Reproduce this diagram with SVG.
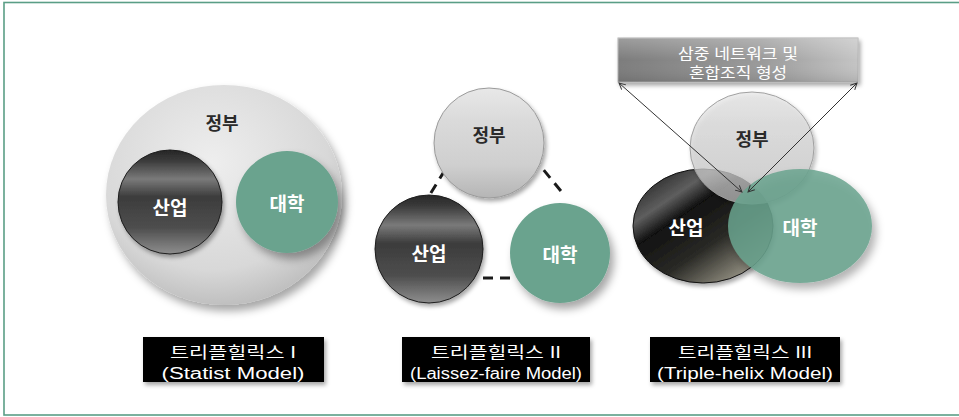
<svg xmlns="http://www.w3.org/2000/svg" width="959" height="417" viewBox="0 0 959 417">
<style>
.k{font-family:"Noto Sans CJK KR","Noto Sans",sans-serif;font-weight:bold;text-anchor:middle;dominant-baseline:central}
.w{fill:#ffffff;font-size:19px}
.d{fill:#2a2a2a;font-size:18px}
.lab{font-family:"Liberation Sans","Noto Sans CJK KR",sans-serif;fill:#ffffff;font-size:16px;text-anchor:middle}
.bx{font-family:"Liberation Sans","Noto Sans CJK KR",sans-serif;fill:#ffffff;font-size:15px;text-anchor:middle}
.dash{stroke:#1a1a1a;stroke-width:3;stroke-dasharray:10 7;fill:none}
.arr{stroke:#333;stroke-width:1;fill:none;marker-start:url(#ah);marker-end:url(#ah)}
.uni{fill:#6aa38e}
</style>
<defs>
<filter id="sh" x="-20%" y="-20%" width="150%" height="150%">
<feDropShadow dx="4" dy="6" stdDeviation="4" flood-color="#000" flood-opacity="0.35"/>
</filter>
<filter id="sh2" x="-20%" y="-20%" width="150%" height="150%">
<feDropShadow dx="2" dy="3" stdDeviation="2" flood-color="#000" flood-opacity="0.35"/>
</filter>
<radialGradient id="gBig" cx="0.45" cy="0.35" r="0.7">
<stop offset="0" stop-color="#eeeeee"/>
<stop offset="0.7" stop-color="#d8d8d8"/>
<stop offset="1" stop-color="#b8b8b8"/>
</radialGradient>
<linearGradient id="gDark" x1="0" y1="0" x2="0" y2="1">
<stop offset="0" stop-color="#262626"/>
<stop offset="0.1" stop-color="#3a3a3a"/>
<stop offset="0.28" stop-color="#7a7a7a"/>
<stop offset="0.45" stop-color="#3c3c3c"/>
<stop offset="0.75" stop-color="#4e4e4e"/>
<stop offset="1" stop-color="#8e8e8e"/>
</linearGradient>
<linearGradient id="gLight" x1="0" y1="0" x2="0" y2="1">
<stop offset="0" stop-color="#e8e8e8"/>
<stop offset="0.3" stop-color="#dadada"/>
<stop offset="0.7" stop-color="#cfcfcf"/>
<stop offset="1" stop-color="#b5b5b5"/>
</linearGradient>
<linearGradient id="gDark3" x1="0.2" y1="0.1" x2="0.9" y2="0.95">
<stop offset="0" stop-color="#3a3a3a"/>
<stop offset="0.15" stop-color="#5e5e5e"/>
<stop offset="0.3" stop-color="#111111"/>
<stop offset="0.6" stop-color="#2a2a26"/>
<stop offset="1" stop-color="#aaa696"/>
</linearGradient>
<linearGradient id="gBox" x1="0" y1="0" x2="1" y2="0">
<stop offset="0" stop-color="#7c7c7c"/>
<stop offset="0.6" stop-color="#9a9a9a"/>
<stop offset="1" stop-color="#c4c4c4"/>
</linearGradient>
<linearGradient id="gBoxV" x1="0" y1="0" x2="0" y2="1">
<stop offset="0" stop-color="#ffffff" stop-opacity="0.25"/>
<stop offset="0.5" stop-color="#ffffff" stop-opacity="0"/>
<stop offset="1" stop-color="#000000" stop-opacity="0.1"/>
</linearGradient>
<marker id="ah" viewBox="0 0 10 10" refX="9" refY="5" markerWidth="8" markerHeight="8" orient="auto-start-reverse" markerUnits="userSpaceOnUse">
<path d="M1,1 L9,5 L1,9" fill="none" stroke="#333" stroke-width="1.2"/>
</marker>
</defs>

<rect x="4" y="2.5" width="970" height="412.5" fill="#ffffff" stroke="#5a9e86" stroke-width="1.6"/>

<g id="connectors">
<line class="dash" x1="445" y1="170" x2="429" y2="196"/>
<line class="dash" x1="533" y1="157" x2="565" y2="196"/>
<line class="dash" x1="483" y1="278" x2="516" y2="278"/>
</g>

<!-- Panel 1 -->
<g id="gov1">
<ellipse cx="224" cy="195" rx="118" ry="110" fill="url(#gBig)" filter="url(#sh)"/>
<text class="k d" x="222" y="122">정부</text>
</g>
<g id="ind1">
<circle cx="170" cy="202" r="52" fill="url(#gDark)" stroke="#1e1e1e" stroke-width="1" filter="url(#sh2)"/>
<text class="k w" x="170" y="206">산업</text>
</g>
<g id="uni1">
<circle cx="287" cy="202" r="51" class="uni" filter="url(#sh)"/>
<text class="k w" x="287" y="202">대학</text>
</g>

<!-- Panel 2 -->
<g id="gov2">
<circle cx="489" cy="143" r="55" fill="url(#gLight)" stroke="#9a9a9a" stroke-width="1" filter="url(#sh2)"/>
<text class="k d" x="489" y="134">정부</text>
</g>
<g id="ind2">
<circle cx="429" cy="249" r="54" fill="url(#gDark)" stroke="#1e1e1e" stroke-width="1" filter="url(#sh2)"/>
<text class="k w" x="429" y="252">산업</text>
</g>
<g id="uni2">
<circle cx="560" cy="253" r="50" class="uni" filter="url(#sh)"/>
<text class="k w" x="560" y="253">대학</text>
</g>

<!-- Panel 3 -->
<g id="box3">
<rect x="618" y="38" width="240" height="44" fill="url(#gBox)" stroke="#b0b0b0" stroke-width="1" filter="url(#sh2)"/>
<rect x="618" y="38" width="240" height="44" fill="url(#gBoxV)"/>
<text class="bx" x="738" y="59" textLength="120" lengthAdjust="spacingAndGlyphs">삼중 네트워크 및</text>
<text class="bx" x="738" y="78" textLength="98" lengthAdjust="spacingAndGlyphs">혼합조직 형성</text>
</g>
<g id="ind3">
<ellipse cx="703" cy="226" rx="70" ry="57" fill="url(#gDark3)" stroke="#111" stroke-width="1" filter="url(#sh2)"/>
<text class="k w" x="686" y="226">산업</text>
</g>
<g id="gov3">
<ellipse cx="752" cy="148" rx="62" ry="56" fill="url(#gLight)" fill-opacity="0.72" stroke="#a0a0a0" stroke-width="1" filter="url(#sh2)"/>
<text class="k d" x="752" y="138">정부</text>
</g>
<g id="uni3">
<ellipse cx="800" cy="226" rx="72" ry="57" fill="#6aa38e" fill-opacity="0.85" filter="url(#sh)"/>
<text class="k w" x="800" y="226">대학</text>
</g>
<g id="arrows">
<line class="arr" x1="742" y1="192" x2="619" y2="83"/>
<line class="arr" x1="748" y1="192" x2="857" y2="83"/>
</g>

<!-- Labels -->
<g id="lab1">
<rect x="143" y="337" width="181" height="45" fill="#000" filter="url(#sh2)"/>
<text class="lab" x="233" y="358" textLength="126" lengthAdjust="spacingAndGlyphs">트리플힐릭스 I</text>
<text class="lab" x="233" y="379" textLength="143" lengthAdjust="spacingAndGlyphs">(Statist Model)</text>
</g>
<g id="lab2">
<rect x="402" y="337" width="188" height="45" fill="#000" filter="url(#sh2)"/>
<text class="lab" x="496" y="358" textLength="130" lengthAdjust="spacingAndGlyphs">트리플힐릭스 II</text>
<text class="lab" x="496" y="379" textLength="172" lengthAdjust="spacingAndGlyphs">(Laissez-faire Model)</text>
</g>
<g id="lab3">
<rect x="650" y="337" width="190" height="45" fill="#000" filter="url(#sh2)"/>
<text class="lab" x="745" y="358" textLength="134" lengthAdjust="spacingAndGlyphs">트리플힐릭스 III</text>
<text class="lab" x="745" y="379" textLength="176" lengthAdjust="spacingAndGlyphs">(Triple-helix Model)</text>
</g>
</svg>
